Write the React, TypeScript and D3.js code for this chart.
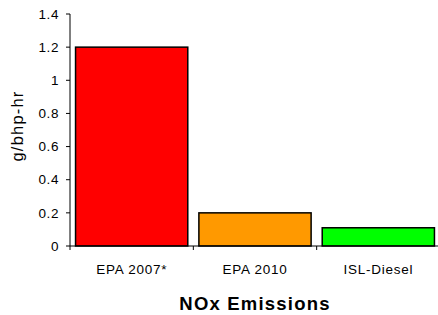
import React from "react";
import * as d3 from "d3";

const categories = ["EPA 2007*", "EPA 2010", "ISL-Diesel"];
const values = [1.2, 0.2, 0.11];
const colors = ["#FF0000", "#FF9900", "#00FF00"];
const yTicks = [0, 0.2, 0.4, 0.6, 0.8, 1, 1.2, 1.4];

export default function App() {
  const W = 438, H = 315;
  const left = 70, right = 440, top = 14, bottom = 246;
  const x = d3.scaleBand<string>().domain(categories).range([left, right]).paddingInner(0.09).paddingOuter(0.045);
  const xt = d3.scaleBand<string>().domain(categories).range([left, right]);
  const y = d3.scaleLinear().domain([0, 1.4]).range([bottom, top]);
  const font = "Arial, 'Liberation Sans', sans-serif";
  return (
    <svg width={W} height={H} style={{ position: "absolute", left: 0, top: 0, background: "#fff" }} fontFamily={font}>
      {values.map((v, i) => (
        <rect key={i} x={x(categories[i])!} y={y(v)} width={x.bandwidth()} height={y(0) - y(v)}
          fill={colors[i]} stroke="#000" strokeWidth={1.5} />
      ))}
      <line x1={left} x2={left} y1={top} y2={bottom} stroke="#000" strokeWidth={1} />
      <line x1={left} x2={right} y1={bottom} y2={bottom} stroke="#000" strokeWidth={1} />
      {yTicks.map((t) => (
        <g key={t}>
          <line x1={left - 4} x2={left} y1={y(t)} y2={y(t)} stroke="#000" />
          <text x={left - 11} y={y(t)} dy="0.35em" textAnchor="end" fontSize={13.5} letterSpacing={0.6} fill="#000">{String(t)}</text>
        </g>
      ))}
      {categories.map((c, i) => (
        <g key={c}>
          <line x1={xt(c)!} x2={xt(c)!} y1={bottom} y2={bottom + 4} stroke="#000" />
          <text x={xt(c)! + xt.bandwidth() / 2} y={274} textAnchor="middle" fontSize={13.5} letterSpacing={0.75} fill="#000">{c}</text>
        </g>
      ))}
      <text x={(left + right) / 2} y={310} textAnchor="middle" fontSize={18.5} fontWeight="bold" letterSpacing={1.2} fill="#000">NOx Emissions</text>
      <text transform={`translate(22.5,${(top + bottom) / 2 - 4}) rotate(-90)`} textAnchor="middle" fontSize={16.5} letterSpacing={1.2} fill="#000">g/bhp-hr</text>
    </svg>
  );
}
